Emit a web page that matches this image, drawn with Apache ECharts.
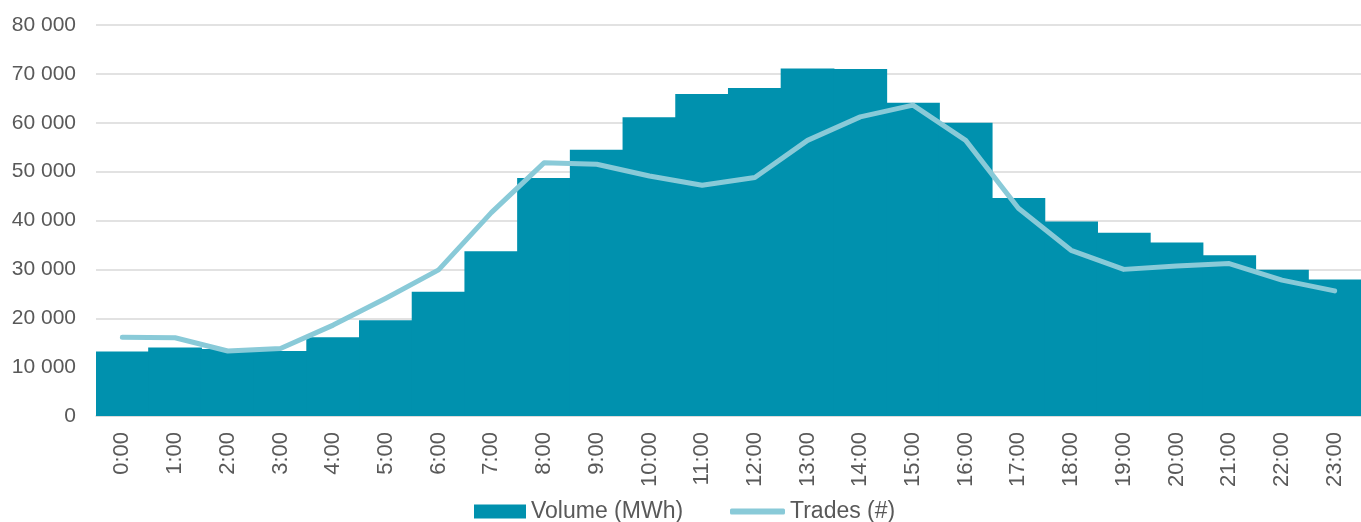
<!DOCTYPE html>
<html>
<head>
<meta charset="UTF-8">
<title>Volume and trades by hour</title>
<script src="https://cdn.jsdelivr.net/npm/echarts@6/dist/echarts.min.js"></script>
<style>
    html, body { margin: 0; padding: 0; background: #fff; }
    #chart { width: 1361px; height: 522px; }
</style>
</head>
<body>
<div id="chart"></div>
<script>
    // hours of the day
    var hours = ['0:00', '1:00', '2:00', '3:00', '4:00', '5:00', '6:00', '7:00', '8:00', '9:00', '10:00', '11:00',
        '12:00', '13:00', '14:00', '15:00', '16:00', '17:00', '18:00', '19:00', '20:00', '21:00', '22:00', '23:00'];

    // Volume (MWh), bars
    var volume = [13200, 14000, 13700, 13300, 16100, 19600, 25400, 33700, 48700, 54500, 61100, 65900,
        67100, 71100, 71000, 64100, 60000, 44600, 39800, 37500, 35500, 32900, 29900, 27950];

    // Trades (#), line
    var trades = [16100, 16000, 13300, 13800, 18600, 24100, 29900, 41600, 51800, 51500, 49100, 47200,
        48800, 56400, 61200, 63600, 56400, 42500, 33900, 30000, 30700, 31200, 27800, 25600];

    var barColor = '#0091ae';
    var lineColor = '#89cad8';

    var chart = echarts.init(document.getElementById('chart'));

    function spaceThousands(v) {
        return String(v).replace(/\B(?=(\d{3})+(?!\d))/g, ' ');
    }

    var legendText = { color: '#595959', fontSize: 23 };

    chart.setOption({
        animation: false,
        textStyle: { fontFamily: 'Liberation Sans, Arial, sans-serif' },
        grid: { left: 96, right: 0, top: 25, bottom: 106 },
        // two legends so each icon can have its own height
        legend: [
            {
                left: 469,
                top: 495,
                itemWidth: 52,
                itemHeight: 14,
                textStyle: legendText,
                data: [{ name: 'Volume (MWh)', icon: 'rect' }]
            },
            {
                left: 725,
                top: 495,
                itemWidth: 55,
                itemHeight: 6,
                textStyle: legendText,
                data: [{ name: 'Trades (#)', icon: 'roundRect', itemStyle: { color: lineColor } }]
            }
        ],
        xAxis: {
            type: 'category',
            data: hours,
            axisLine: { lineStyle: { color: '#d9d9d9', width: 1.5 } },
            axisTick: { show: false },
            axisLabel: { rotate: 90, margin: 16, color: '#595959', fontSize: 22 }
        },
        yAxis: {
            type: 'value',
            min: 0,
            max: 80000,
            interval: 10000,
            axisLine: { show: false },
            axisTick: { show: false },
            splitLine: { lineStyle: { color: '#d9d9d9', width: 1.5 } },
            axisLabel: { margin: 20, color: '#595959', fontSize: 21, formatter: spaceThousands }
        },
        series: [
            {
                name: 'Volume (MWh)',
                type: 'bar',
                data: volume,
                barCategoryGap: '-2%',
                itemStyle: { color: barColor }
            },
            {
                name: 'Trades (#)',
                type: 'line',
                data: trades,
                symbol: 'none',
                lineStyle: { color: lineColor, width: 5, cap: 'round', join: 'round' },
                itemStyle: { color: lineColor }
            }
        ]
    });
</script>
</body>
</html>
